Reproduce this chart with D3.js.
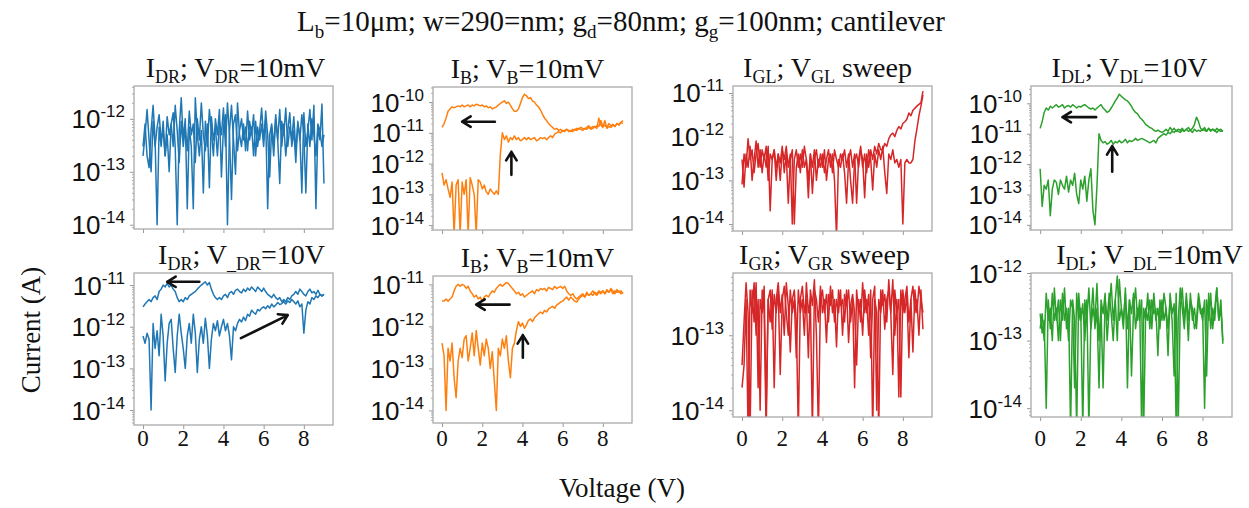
<!DOCTYPE html>
<html>
<head>
<meta charset="utf-8">
<script src="https://cdn.jsdelivr.net/npm/d3@7"></script>
<style>
  body { margin: 0; background: #fff; }
  svg { display: block; font-family: "Liberation Serif", "Times New Roman", serif; }
</style>
</head>
<body>
<div id="chart"></div>
<script>
// sweep voltage grid (V)
const voltage = [0,0.1,0.2,0.3,0.4,0.5,0.6,0.7,0.8,0.9,1,1.1,1.2,1.3,1.4,1.5,1.6,1.7,1.8,1.9,2,2.1,2.2,2.3,2.4,2.5,2.6,2.7,2.8,2.9,3,3.1,3.2,3.3,3.4,3.5,3.6,3.7,3.8,3.9,4,4.1,4.2,4.3,4.4,4.5,4.6,4.7,4.8,4.9,5,5.1,5.2,5.3,5.4,5.5,5.6,5.7,5.8,5.9,6,6.1,6.2,6.3,6.4,6.5,6.6,6.7,6.8,6.9,7,7.1,7.2,7.3,7.4,7.5,7.6,7.7,7.8,7.9,8,8.1,8.2,8.3,8.4,8.5,8.6,8.7,8.8,8.9,9];
const xTicks = [0, 2, 4, 6, 8];

// I_DR, V_DR = 10mV
const idrLowFwd = [3e-13,8e-13,2e-13,1.2e-13,6e-13,1.8e-12,4e-13,1e-14,7e-13,3e-13,
  9e-13,2e-13,5e-13,1e-13,8e-13,1.3e-12,3e-13,1e-14,6e-13,2.5e-12,
  4e-13,1e-12,2e-14,7e-13,3e-13,2e-14,2.5e-12,5e-13,2e-13,6e-13,
  4e-14,9e-13,3e-13,1.5e-12,6e-13,2e-13,1e-12,5e-13,1.5e-12,8e-14,
  7e-13,1.2e-12,1e-14,6e-13,1.8e-12,4e-13,9e-14,2e-12,5e-13,3e-13,
  8e-13,2.5e-13,1.4e-12,4e-13,7e-13,2e-13,9e-13,3e-13,6e-13,1.6e-12,
  4e-13,1e-12,2e-14,5e-13,8e-13,3e-13,1.2e-12,4e-13,6e-14,9e-13,
  5e-13,1.6e-12,3e-13,7e-13,4e-13,1.1e-12,2.5e-13,8e-13,5e-13,4e-14,
  1.3e-12,3e-13,6e-13,1.5e-12,4e-13,1.8e-12,2e-14,7e-13,4e-13,1.9e-12,6e-14];
const idrLowRev = [2e-13,5e-13,1.5e-12,4e-13,1e-13,9e-13,3e-13,7e-13,1.2e-12,4e-13,
  6e-13,2e-13,1.1e-12,5e-13,8e-13,3e-13,1.8e-12,6e-13,1.5e-13,9e-13,
  3e-13,7e-13,2.5e-13,1.4e-12,5e-13,8e-13,1.5e-13,1e-12,4e-13,2e-12,
  5e-13,2.5e-13,8e-13,5e-14,1.1e-12,4e-13,7e-13,2e-13,9e-13,5e-13,
  1.6e-12,3e-13,2e-12,5e-13,3e-14,8e-13,1.2e-12,2.5e-13,6e-13,1e-12,
  4e-13,7e-13,2.5e-13,9e-13,5e-13,1.2e-12,2e-13,7e-13,4e-13,8e-13,
  3e-13,1.4e-12,5e-13,8e-14,7e-13,2e-13,1e-12,4e-13,1.5e-12,3e-13,
  8e-13,2e-13,6e-13,1.3e-12,3e-13,6e-13,1.5e-13,9e-13,4e-13,1.2e-12,
  5e-13,4e-14,8e-13,3e-13,1e-12,5e-13,2e-13,8e-13,6e-13,3e-13,5e-13];

// I_B, V_B = 10mV (top)
const ibTopFwd = [5e-13,2e-13,3e-13,1.5e-13,8e-14,2.5e-13,5e-15,2e-13,3e-13,5e-15,
  2.5e-13,1e-13,3e-13,5e-15,3.5e-13,2e-13,1e-13,5e-15,3e-13,2.5e-13,
  1.5e-13,2e-13,1.2e-13,1e-13,1.5e-13,1.2e-13,1e-13,1.3e-13,1e-13,2e-12,
  1e-11,6e-12,8e-12,5e-12,7e-12,6e-12,8e-12,6e-12,7e-12,5.5e-12,
  6e-12,7e-12,6e-12,7e-12,6e-12,6.5e-12,7e-12,5.5e-12,6e-12,7e-12,
  6.5e-12,7e-12,6e-12,7e-12,8e-12,7e-12,9e-12,1e-11,1.1e-11,1e-11,
  1.2e-11,1.1e-11,1.3e-11,1.2e-11,1.1e-11,1.3e-11,1.2e-11,1.4e-11,1.3e-11,1.5e-11,
  1.4e-11,1.3e-11,1.5e-11,1.7e-11,1.4e-11,1.6e-11,1.5e-11,1.7e-11,1.6e-11,2.5e-11,
  1.6e-11,1.8e-11,1.5e-11,2e-11,1.7e-11,1.9e-11,1.6e-11,2e-11,1.8e-11,2.2e-11,2e-11];
const ibTopRev = [1.5e-11,2e-11,3e-11,5e-11,6e-11,7e-11,6.5e-11,7e-11,7.5e-11,7e-11,
  8e-11,7e-11,7.5e-11,8e-11,7e-11,8e-11,7.5e-11,8.5e-11,8e-11,7.5e-11,
  8e-11,7e-11,7.5e-11,6.5e-11,7e-11,6e-11,6.5e-11,7e-11,8e-11,9e-11,
  1e-10,1.1e-10,9e-11,1e-10,8e-11,6e-11,5e-11,5e-11,6e-11,9e-11,
  1.4e-10,1.8e-10,1.6e-10,1.3e-10,1.4e-10,1.1e-10,1e-10,8e-11,7e-11,5.5e-11,
  4e-11,3e-11,2.5e-11,2e-11,1.7e-11,1.5e-11,1.3e-11,1.4e-11,1.2e-11,1.3e-11,
  1.1e-11,1.2e-11,1.3e-11,1.1e-11,1.2e-11,1.1e-11,1.3e-11,1.2e-11,1.4e-11,1.3e-11,
  1.2e-11,1.4e-11,1.3e-11,1.5e-11,1.3e-11,1.4e-11,1.6e-11,1.4e-11,3e-11,1.8e-11,
  1.5e-11,2.5e-11,1.4e-11,1.6e-11,1.5e-11,1.8e-11,1.6e-11,2e-11,1.8e-11,2.2e-11,2.5e-11];

// I_GL, V_GL sweep
const iglFwd = [3e-13,7e-14,4e-13,2e-13,6e-13,1e-13,3e-13,8e-13,2e-13,5e-13,
  1.5e-13,4e-13,2e-13,6e-13,2e-14,3e-13,5e-13,1e-13,4e-13,2.5e-13,
  6e-13,1.5e-13,4e-13,3e-14,3e-13,5e-13,1e-14,2e-13,4e-13,1.5e-13,
  5e-13,2e-13,3e-13,4e-14,4e-13,2e-13,5e-13,1e-13,3e-13,2e-13,
  4e-13,1.5e-13,3e-13,5e-13,2e-13,4e-13,1e-13,5e-15,3e-13,2e-13,
  4e-13,1.5e-13,3e-14,3e-13,5e-13,2e-13,4e-13,3e-14,3e-13,6e-13,
  2e-13,4e-13,1.5e-13,5e-13,3e-13,6e-14,4e-13,2e-13,5e-13,3e-13,
  6e-13,1.5e-13,5e-14,4e-13,3e-13,5e-13,2.5e-13,3e-13,2e-13,3e-13,
  1e-14,2.5e-13,3e-13,2.5e-13,2.5e-13,3e-13,8e-13,1.5e-12,3e-12,5e-12,9e-12];
const iglRev = [8e-14,4e-13,2e-13,9e-13,3e-13,5e-13,1.5e-13,4e-13,7e-13,2e-13,
  5e-13,3e-13,6e-13,1e-13,4e-13,3e-13,5e-13,2e-13,4e-13,1e-13,
  5e-13,3e-13,6e-13,2e-13,4e-13,1e-14,3e-13,5e-13,2e-13,4e-13,
  2e-13,6e-13,3e-13,1e-13,4e-13,5e-14,3e-13,5e-13,2e-13,4e-13,
  2e-13,5e-13,1e-13,3e-13,4e-13,1.5e-13,5e-13,3e-13,2e-13,4e-13,
  3e-13,5e-13,2e-13,4e-13,1e-13,3e-14,3e-13,4e-13,2e-13,5e-13,
  3e-13,4e-14,4e-13,2e-13,5e-13,3e-13,6e-13,4e-13,7e-13,5e-13,
  5e-13,7e-13,6e-13,9e-13,1.1e-12,1.2e-12,1e-12,1.4e-12,1.7e-12,1.5e-12,
  2e-12,2.2e-12,2.5e-12,3.5e-12,3e-12,4e-12,4.5e-12,5e-12,5.5e-12,6e-12,1.1e-11];

// I_DL, V_DL = 10V
const idlHighFwd = [7e-13,4e-14,2e-13,1.5e-13,3e-13,2e-14,1.5e-13,3e-13,2.5e-13,1e-13,
  3e-13,2e-13,1.5e-13,4e-13,1.2e-13,3e-13,2e-13,5e-13,1e-13,5e-14,
  3e-13,1.5e-13,4e-13,6e-14,3e-13,7e-13,3e-14,1e-14,2e-13,1e-11,
  6e-12,5e-12,5.5e-12,4.5e-12,5e-12,6e-12,4.5e-12,5.5e-12,5e-12,6e-12,
  5e-12,5.5e-12,6.5e-12,5e-12,6e-12,5.5e-12,6e-12,7e-12,6e-12,6.5e-12,
  7e-12,6.5e-12,6e-12,5.5e-12,5e-12,5.5e-12,6e-12,5e-12,7e-12,8e-12,
  9e-12,1e-11,9e-12,1.1e-11,1e-11,1.2e-11,1.1e-11,1.3e-11,1.2e-11,1.1e-11,
  1.3e-11,1.2e-11,1.4e-11,1.2e-11,1.3e-11,1.1e-11,1.4e-11,1.2e-11,1.3e-11,1.2e-11,
  1.4e-11,1.3e-11,1.2e-11,1.5e-11,1.2e-11,1.4e-11,1.3e-11,1.1e-11,1.3e-11,1.2e-11,1.2e-11];
const idlHighRev = [1.5e-11,2.5e-11,5e-11,7e-11,6e-11,8e-11,7e-11,8e-11,9e-11,7.5e-11,
  8e-11,9e-11,7e-11,8e-11,8.5e-11,7.5e-11,9e-11,8e-11,7e-11,8e-11,
  7.5e-11,8.5e-11,9e-11,8e-11,7e-11,6.5e-11,7e-11,6e-11,7e-11,8e-11,
  9e-11,7e-11,6e-11,5e-11,5.5e-11,7e-11,9e-11,1.2e-10,1.5e-10,2e-10,
  1.7e-10,1.5e-10,1.3e-10,1.2e-10,1e-10,8e-11,6e-11,5e-11,4.5e-11,3.5e-11,
  3e-11,2.5e-11,2e-11,1.8e-11,1.6e-11,1.5e-11,1.3e-11,1.2e-11,1.3e-11,1.2e-11,
  1.1e-11,1.2e-11,1.4e-11,1.2e-11,1.6e-11,1.3e-11,1.5e-11,1.2e-11,1.4e-11,1.3e-11,
  1.5e-11,1.2e-11,1.4e-11,1.6e-11,1.3e-11,1.5e-11,2e-11,3.5e-11,2.5e-11,1.5e-11,
  1.3e-11,1.6e-11,1.2e-11,1.5e-11,1.3e-11,1.4e-11,1.2e-11,1.5e-11,1.3e-11,1.4e-11,1.2e-11];

// I_DR, V_DR = 10V
const idrHighFwd = [6e-13,4e-13,7e-13,5e-13,1e-14,1.2e-12,3e-13,8e-13,2e-13,2e-12,
  6e-13,5e-14,4e-13,1.2e-12,1.5e-12,3e-13,8e-14,6e-13,2e-12,7e-13,
  3e-13,1e-13,6e-13,1.2e-12,4e-13,2e-12,7e-13,8e-14,5e-13,1e-12,
  4e-13,1.6e-12,6e-13,1e-13,5e-13,1.2e-12,8e-13,1.4e-12,6e-13,1e-12,
  1.5e-12,8e-13,1.2e-12,6e-13,1.6e-13,1e-12,8e-13,1.2e-12,1.5e-12,1.3e-12,
  1.7e-12,1.4e-12,2e-12,1.8e-12,2.5e-12,2.2e-12,2e-12,2.6e-12,2.4e-12,2.8e-12,
  3e-12,2.7e-12,3.2e-12,2.8e-12,3.5e-12,3e-12,3.3e-12,3.8e-12,3.4e-12,3.6e-12,
  4e-12,3.5e-12,4.2e-12,3.8e-12,4.5e-12,4e-12,3.5e-12,4.2e-12,3e-12,3.5e-12,
  7e-13,2.5e-12,4e-12,3.5e-12,5e-12,4.5e-12,5.5e-12,5e-12,6e-12,5.5e-12,6e-12];
const idrHighRev = [3e-12,3.5e-12,4e-12,4.5e-12,4e-12,5e-12,5.5e-12,4.5e-12,7e-12,8e-12,
  1e-11,9e-12,1.1e-11,9e-12,1e-11,8e-12,7e-12,5e-12,4e-12,4.5e-12,
  4e-12,5e-12,4.5e-12,5.5e-12,6e-12,6.5e-12,7e-12,8e-12,9e-12,1e-11,
  1.1e-11,1.2e-11,1e-11,1.15e-11,8e-12,6e-12,5e-12,4.5e-12,5e-12,4.5e-12,
  5.5e-12,6e-12,5e-12,6.5e-12,7e-12,6e-12,7.5e-12,8e-12,7e-12,6.5e-12,
  8e-12,7e-12,8.5e-12,7.5e-12,9e-12,8e-12,7e-12,9e-12,8e-12,7e-12,
  8.5e-12,7e-12,6e-12,5.5e-12,5e-12,6e-12,5e-12,4.5e-12,5e-12,4e-12,
  4.5e-12,4e-12,5e-12,4.5e-12,5.5e-12,6e-12,7e-12,6e-12,8e-12,7e-12,
  6e-12,5.5e-12,7e-12,8e-12,6.5e-12,7e-12,6e-12,7.5e-12,6e-12,5.5e-12,6e-12];

// I_B, V_B = 10mV (bottom)
const ibBotFwd = [4e-13,2e-13,1e-14,3e-13,1.5e-13,4e-13,6e-14,2e-14,1.5e-13,3e-13,
  1.8e-13,5e-13,6e-13,1.5e-13,3e-13,7e-13,2e-13,8e-13,3e-13,1.2e-13,
  4e-13,2e-13,5e-13,3e-13,1e-13,2.5e-13,5e-14,1e-14,3e-13,2e-13,
  5e-13,3e-13,6e-13,1.5e-13,6e-14,3e-13,4e-13,8e-13,1.3e-12,1e-12,
  1.2e-12,9e-13,1.1e-12,1.4e-12,1.5e-12,1.3e-12,1.6e-12,1.8e-12,2e-12,2.2e-12,
  2e-12,2.4e-12,2.2e-12,2.6e-12,2.8e-12,3e-12,2.7e-12,3.2e-12,3.5e-12,3.8e-12,
  4e-12,4.5e-12,5e-12,4.2e-12,5e-12,4.5e-12,4e-12,3.8e-12,4.5e-12,5e-12,
  5.5e-12,5e-12,6e-12,5.5e-12,6e-12,5.5e-12,6.5e-12,6e-12,7e-12,6.5e-12,
  7e-12,6e-12,7e-12,6.5e-12,7.5e-12,6e-12,7e-12,6.5e-12,7e-12,6e-12,6.5e-12];
const ibBotRev = [4e-12,4e-12,4.5e-12,4e-12,4.5e-12,5e-12,7e-12,9e-12,1e-11,9e-12,
  1e-11,9.5e-12,8e-12,9e-12,7e-12,6e-12,5e-12,5.5e-12,4.5e-12,5e-12,
  4e-12,5e-12,5.5e-12,5e-12,6e-12,7e-12,6.5e-12,8e-12,9e-12,1e-11,
  9e-12,1e-11,1.1e-11,1.05e-11,9e-12,8e-12,7e-12,6e-12,6.5e-12,5.5e-12,
  6e-12,5e-12,5.5e-12,6e-12,6.5e-12,7e-12,6e-12,7.5e-12,7e-12,8e-12,
  7.5e-12,8e-12,7e-12,8.5e-12,8e-12,7.5e-12,9e-12,8e-12,8.5e-12,9e-12,
  8e-12,9e-12,7e-12,6e-12,5.5e-12,6e-12,5e-12,4.5e-12,5e-12,5.5e-12,
  6e-12,5e-12,6.5e-12,5.5e-12,6e-12,7e-12,6e-12,5.5e-12,6.5e-12,6e-12,
  7e-12,6e-12,7.5e-12,6.5e-12,8e-12,7e-12,6e-12,7.5e-12,6.5e-12,7e-12,6e-12];

// I_GR, V_GR sweep
const igrFwd = [2e-14,4e-14,3e-13,5e-15,4e-13,2e-13,5e-13,1e-13,3e-13,1e-14,
  4e-13,2e-13,5e-15,3e-13,1.5e-13,4e-13,2e-14,3e-13,5e-13,2e-13,
  3.5e-13,1e-13,5e-13,2.5e-13,6e-14,3e-13,4e-13,1.5e-13,5e-15,3e-13,
  4.5e-13,2e-13,3e-13,5e-14,4e-13,2.5e-13,5.5e-13,1e-13,5e-15,3e-13,
  4e-13,2e-13,3.5e-13,1.5e-13,4.5e-13,2e-13,3e-13,7e-14,4e-13,2.5e-13,
  3e-13,1.5e-13,4e-13,8e-14,2.5e-13,3.5e-13,2e-13,4e-14,3e-13,1.5e-13,
  5e-13,2e-13,3e-13,1e-13,4e-13,5e-15,3e-13,2e-13,5e-15,4e-13,
  2.5e-13,3.5e-13,1.5e-13,5.5e-13,2e-13,3e-14,4e-13,2e-13,3e-13,1.5e-14,
  4e-13,2e-13,3.5e-13,5e-14,3e-13,4.5e-13,2e-13,3e-13,1e-13,4e-13,1.2e-13];
const igrRev = [4e-14,1.5e-13,5e-13,2e-13,5e-15,4e-13,1.5e-13,5e-13,2e-14,3e-13,
  2e-13,4.5e-13,1e-14,3e-13,4e-13,1.2e-13,3.5e-13,2e-13,4e-13,3e-14,
  3e-13,4.5e-13,2e-13,1e-13,4e-13,2e-13,3e-13,5e-14,4e-13,2e-13,
  3e-13,1e-13,5e-13,2e-13,3e-13,5e-15,4e-13,3e-13,1.5e-13,4.5e-13,
  2e-13,3e-13,8e-14,3.5e-13,2.5e-13,4e-13,1.5e-13,3e-13,2e-13,4e-13,
  1e-13,3.5e-13,2.5e-13,4e-13,1.5e-13,3e-13,2e-14,4e-13,2e-13,3e-13,
  1e-13,4e-13,2e-13,3.5e-13,5e-14,3e-13,4.5e-13,1e-14,3e-13,2e-13,
  4e-13,1.2e-13,3e-13,4e-13,2e-13,5.5e-13,1e-13,3e-13,1.5e-14,4e-13,
  2e-13,3e-13,4.5e-13,1.5e-13,3e-13,6e-14,4e-13,2e-13,4.5e-13,3e-13,2e-13];

// I_DL, V_DL = 10mV
const idlLowFwd = [2.5e-13,1.3e-13,2e-13,1e-14,4e-13,1.5e-13,5e-13,2e-13,3e-13,1e-13,
  4e-13,2e-13,6e-13,1.5e-13,3e-13,5e-15,4e-13,2e-13,5e-15,5e-13,
  2e-13,3.5e-13,1e-13,4e-13,5e-15,2e-13,6e-13,1.5e-13,3e-13,2e-14,
  4e-13,2.5e-13,5e-13,1e-13,3e-13,7e-13,2e-13,4e-13,1e-13,8e-13,
  3e-13,2e-13,5e-13,1.5e-13,4e-13,3e-14,3e-13,6e-13,2e-13,4e-13,
  5e-15,3e-13,2e-13,5e-13,1.5e-13,4e-13,2.5e-13,3e-13,6e-14,4e-13,
  2e-13,5e-13,3e-13,1.5e-13,4e-13,2e-13,3e-14,5e-13,5e-15,3e-13,
  6e-13,2e-13,4e-13,1e-13,5e-13,2e-13,3e-13,1.5e-13,4e-13,2.5e-13,
  3e-13,1e-14,4e-13,2e-13,5e-13,1.5e-13,3e-13,6e-13,2e-13,3e-13,9e-14];
const idlLowRev = [1.5e-13,2.5e-13,1e-13,5e-13,2e-13,3e-13,1e-13,6e-13,2e-13,4e-13,
  1e-13,5e-13,2e-13,3e-13,1e-13,4e-13,3e-13,2e-14,5e-13,2e-13,
  3e-13,5e-15,4e-13,2e-13,6e-13,1.5e-13,3e-13,2e-13,7e-13,1e-13,
  3e-13,2e-14,4e-13,2e-13,5e-13,2.5e-13,1e-13,4e-13,9e-13,2e-13,
  3e-13,1.5e-13,6e-13,2e-14,4e-13,2.5e-13,5e-13,1.5e-13,3e-13,2e-13,
  4e-13,5e-15,3e-13,2e-13,4e-13,1.5e-13,5e-13,2e-13,3e-13,1.5e-13,
  4e-13,2e-13,3e-13,6e-14,5e-13,2.5e-13,3.5e-13,5e-15,2e-13,6e-13,
  3e-13,1.5e-13,5e-13,2e-13,4e-13,3e-13,1.5e-13,2e-13,5e-13,3e-13,
  2e-13,4e-13,3e-14,5e-13,1.5e-13,3e-13,2e-13,6e-13,2e-13,4e-13,1e-13];

// y tick decades (exponents) per panel
const ticksP1 = [-14, -13, -12];
const ticksP2 = [-14, -13, -12, -11, -10];
const ticksP3 = [-14, -13, -12, -11];
const ticksP4 = [-14, -13, -12, -11, -10];
const ticksP5 = [-14, -13, -12, -11];
const ticksP6 = [-14, -13, -12, -11];
const ticksP7 = [-14, -13];
const ticksP8 = [-14, -13, -12];

// annotation arrows [V0, I0, V1, I1] (tail -> head)
const arrowsP2 = [[2.63, 2.3e-11, 1.0, 2.3e-11], [3.45, 4.3e-13, 3.45, 2.4e-12]];
const arrowsP4 = [[2.76, 3.5e-11, 1.1, 3.5e-11], [3.55, 5.6e-13, 3.55, 3.9e-12]];
const arrowsP5 = [[2.8, 1.2e-11, 1.2, 1.2e-11], [4.87, 5.3e-13, 7.2, 1.9e-12]];
const arrowsP6 = [[3.36, 3.3e-12, 1.7, 3.3e-12], [4.02, 1.8e-13, 4.02, 6.2e-13]];

const BLUE = '#1f77b4', ORANGE = '#ff7f0e', RED = '#d62728', GREEN = '#2ca02c';

const panels = [
  { left: 134, top: 86, w: 199, h: 143, yExp: [-14.08, -11.38], ticks: ticksP1, color: BLUE,
    series: [idrLowFwd, idrLowRev], arrows: [], xLabels: false, titleDx: 2,
    title: [['I'], ['DR', 'sub'], ['; V'], ['DR', 'sub'], ['=10mV']] },
  { left: 433, top: 87, w: 199, h: 143, yExp: [-14.16, -9.51], ticks: ticksP2, color: ORANGE,
    series: [ibTopFwd, ibTopRev], arrows: arrowsP2, xLabels: false, titleDx: -5,
    title: [['I'], ['B', 'sub'], ['; V'], ['B', 'sub'], ['=10mV']] },
  { left: 733, top: 86, w: 199, h: 145, yExp: [-14.16, -10.84], ticks: ticksP3, color: RED,
    series: [iglFwd, iglRev], arrows: [], xLabels: false, titleDx: -5,
    title: [['I'], ['GL', 'sub'], ['; V'], ['GL', 'sub'], [' sweep']] },
  { left: 1031, top: 86, w: 201, h: 144, yExp: [-14.17, -9.43], ticks: ticksP4, color: GREEN,
    series: [idlHighFwd, idlHighRev], arrows: arrowsP4, xLabels: false, titleDx: -2,
    title: [['I'], ['DL', 'sub'], ['; V'], ['DL', 'sub'], ['=10V']] },
  { left: 134, top: 273, w: 199, h: 152, yExp: [-14.36, -10.71], ticks: ticksP5, color: BLUE,
    series: [idrHighFwd, idrHighRev], arrows: arrowsP5, xLabels: true, titleDx: 8,
    title: [['I'], ['DR', 'sub'], ['; V'], ['_DR', 'sub'], ['=10V']] },
  { left: 433, top: 276, w: 199, h: 147, yExp: [-14.3, -10.8], ticks: ticksP6, color: ORANGE,
    series: [ibBotFwd, ibBotRev], arrows: arrowsP6, xLabels: true, titleDx: 5,
    title: [['I'], ['B', 'sub'], ['; V'], ['B', 'sub'], ['=10mV']] },
  { left: 733, top: 273, w: 199, h: 144, yExp: [-14.09, -12.17], ticks: ticksP7, color: RED,
    series: [igrFwd, igrRev], arrows: [], xLabels: true, titleDx: -8,
    title: [['I'], ['GR', 'sub'], ['; V'], ['GR', 'sub'], [' sweep']] },
  { left: 1031, top: 273, w: 201, h: 144, yExp: [-14.13, -12.0], ticks: ticksP8, color: GREEN,
    series: [idlLowFwd, idlLowRev], arrows: [], xLabels: true, titleDx: 18,
    title: [['I'], ['DL', 'sub'], ['; V'], ['_DL', 'sub'], ['=10mV']] }
];

const svg = d3.select('#chart').append('svg')
  .attr('width', 1249)
  .attr('height', 508);

// text with sub/superscript tspans
function rich(text, parts, big, small, subDy, supDy) {
  let shift = 0;
  parts.forEach(([t, kind]) => {
    const target = kind === 'sub' ? subDy : kind === 'sup' ? supDy : 0;
    text.append('tspan')
      .attr('dy', target - shift)
      .attr('font-size', kind ? small : big)
      .text(t);
    shift = target;
  });
}

function drawArrow(g, x, y, a) {
  const x0 = x(a[0]), y0 = y(a[1]), x1 = x(a[2]), y1 = y(a[3]);
  const ang = Math.atan2(y1 - y0, x1 - x0);
  const len = 10, spread = 0.55;
  const hx1 = x1 - len * Math.cos(ang - spread), hy1 = y1 - len * Math.sin(ang - spread);
  const hx2 = x1 - len * Math.cos(ang + spread), hy2 = y1 - len * Math.sin(ang + spread);
  g.append('path')
    .attr('d', `M${x0},${y0}L${x1},${y1}M${hx1},${hy1}L${x1},${y1}L${hx2},${hy2}`)
    .attr('fill', 'none')
    .attr('stroke', '#111')
    .attr('stroke-width', 2.6)
    .attr('stroke-linecap', 'round')
    .attr('stroke-linejoin', 'round');
}

function drawPanel(p, idx) {
  const g = svg.append('g').attr('transform', `translate(${p.left},${p.top})`);
  const x = d3.scaleLinear().domain([-0.45, 9.45]).range([0, p.w]);
  const y = d3.scaleLog().domain([10 ** p.yExp[0], 10 ** p.yExp[1]]).range([p.h, 0]);

  g.append('clipPath').attr('id', 'clip' + idx)
    .append('rect').attr('width', p.w).attr('height', p.h);

  // minor ticks on the log axis
  const minor = [];
  for (let e = -15; e <= -9; e++) {
    for (let m = 2; m <= 9; m++) {
      const v = m * 10 ** e;
      if (v > y.domain()[0] && v < y.domain()[1]) minor.push(v);
    }
  }
  g.append('g')
    .call(d3.axisLeft(y).tickValues(minor).tickSize(2).tickFormat(''))
    .call(s => s.select('.domain').remove())
    .call(s => s.selectAll('line').attr('stroke', '#999').attr('stroke-width', 0.8));

  const yAxis = g.append('g')
    .call(d3.axisLeft(y).tickValues(p.ticks.map(e => 10 ** e)).tickSize(4).tickFormat(''))
    .call(s => s.select('.domain').remove())
    .call(s => s.selectAll('line').attr('stroke', '#999').attr('stroke-width', 1));

  yAxis.selectAll('.tick').each(function (d) {
    const t = d3.select(this).append('text')
      .attr('x', -9)
      .attr('y', 9)
      .attr('fill', '#111')
      .attr('text-anchor', 'end');
    rich(t, [['10'], [String(Math.round(Math.log10(d))), 'sup']], 26, 17, 0, -11);
  });

  g.append('g')
    .attr('transform', `translate(0,${p.h})`)
    .call(d3.axisBottom(x).tickValues(xTicks).tickSize(4).tickFormat(''))
    .call(s => s.select('.domain').remove())
    .call(s => s.selectAll('line').attr('stroke', '#999').attr('stroke-width', 1));

  if (p.xLabels) {
    svg.append('g').selectAll('text')
      .data(xTicks)
      .join('text')
      .attr('x', d => p.left + x(d))
      .attr('y', 446)
      .attr('text-anchor', 'middle')
      .attr('font-size', 23)
      .attr('fill', '#111')
      .text(d => d);
  }

  const line = d3.line()
    .x((d, i) => x(voltage[i]))
    .y(d => y(d));

  g.append('g').attr('clip-path', `url(#clip${idx})`)
    .selectAll('path')
    .data(p.series)
    .join('path')
    .attr('d', line)
    .attr('fill', 'none')
    .attr('stroke', p.color)
    .attr('stroke-width', 1.5)
    .attr('stroke-linejoin', 'round');

  g.append('rect')
    .attr('width', p.w)
    .attr('height', p.h)
    .attr('fill', 'none')
    .attr('stroke', '#aaa')
    .attr('stroke-width', 1.3);

  p.arrows.forEach(a => drawArrow(g, x, y, a));

  const title = svg.append('text')
    .attr('x', p.left + p.w / 2 + p.titleDx)
    .attr('y', p.top - 9)
    .attr('text-anchor', 'middle')
    .attr('fill', '#111');
  rich(title, p.title, 28, 18, 6, 0);
}

panels.forEach(drawPanel);

const mainTitle = svg.append('text')
  .attr('x', 621)
  .attr('y', 31)
  .attr('text-anchor', 'middle')
  .attr('fill', '#111');
rich(mainTitle, [['L'], ['b', 'sub'], ['=10\u03bcm; w=290=nm; g'], ['d', 'sub'], ['=80nm; g'], ['g', 'sub'], ['=100nm; cantilever']], 29, 19, 7, 0);

svg.append('text')
  .attr('transform', 'translate(40,330) rotate(-90)')
  .attr('text-anchor', 'middle')
  .attr('font-size', 27)
  .attr('fill', '#111')
  .text('Current (A)');

svg.append('text')
  .attr('x', 622)
  .attr('y', 497)
  .attr('text-anchor', 'middle')
  .attr('font-size', 27)
  .attr('fill', '#111')
  .text('Voltage (V)');
</script>
</body>
</html>
